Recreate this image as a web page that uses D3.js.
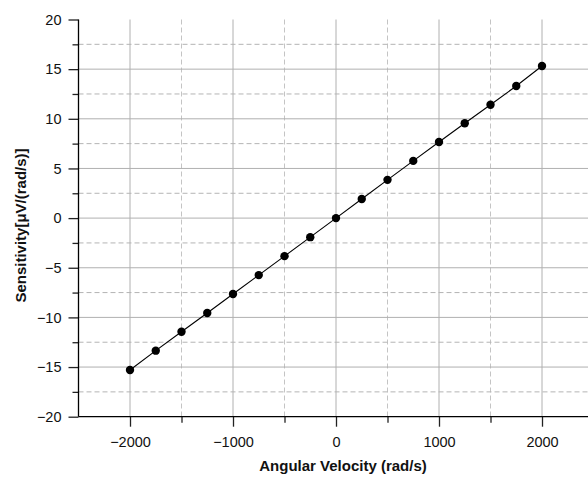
<!DOCTYPE html>
<html><head><meta charset="utf-8">
<script src="https://cdn.jsdelivr.net/npm/d3@7"></script>
<style>body{margin:0;background:#fff;} svg{display:block;font-family:"Liberation Sans",Arial,sans-serif;}</style>
</head><body>
<svg id="c" width="588" height="477"></svg>
<script>
const velocities = [-2000,-1750,-1500,-1250,-1000,-750,-500,-250,0,250,500,750,1000,1250,1500,1750,2000];
const sensitivity = [-15.3,-13.35,-11.45,-9.55,-7.65,-5.74,-3.83,-1.92,0,1.93,3.85,5.76,7.66,9.55,11.42,13.3,15.32];
const xMajorTicks = [-2000,-1000,0,1000,2000];
const xMinorTicks = [-1500,-500,500,1500];
const yMajorTicks = [-20,-15,-10,-5,0,5,10,15,20];
const yMinorTicks = [-17.5,-12.5,-7.5,-2.5,2.5,7.5,12.5,17.5];
const xTitle = "Angular Velocity (rad/s)";
const yTitle = "Sensitivity[\u03bcV/(rad/s)]";

(function(){
const svg = d3.select("#c");
const pLeft = 78.5, pTop = 19.5, pBottom = 416.7;
const x = d3.scaleLinear().domain([-2500,2500]).range([pLeft, pLeft + 515]);
const y = d3.scaleLinear().domain([-20,20]).range([pBottom, pTop]);

const grid = svg.append("g");
grid.selectAll(".vmaj").data(xMajorTicks).enter().append("line")
  .attr("x1",d=>x(d)).attr("x2",d=>x(d)).attr("y1",pTop).attr("y2",pBottom)
  .attr("stroke","#b0b0b0").attr("stroke-width",1);
grid.selectAll(".vmin").data(xMinorTicks).enter().append("line")
  .attr("x1",d=>x(d)).attr("x2",d=>x(d)).attr("y1",pTop).attr("y2",pBottom)
  .attr("stroke","#c4c4c4").attr("stroke-width",1).attr("stroke-dasharray","5,3");
grid.selectAll(".hmaj").data(yMajorTicks.filter(d=>d>-20 && d<20)).enter().append("line")
  .attr("x1",pLeft).attr("x2",588).attr("y1",d=>y(d)).attr("y2",d=>y(d))
  .attr("stroke","#b0b0b0").attr("stroke-width",1);
grid.selectAll(".hmin").data(yMinorTicks).enter().append("line")
  .attr("x1",pLeft).attr("x2",588).attr("y1",d=>y(d)).attr("y2",d=>y(d))
  .attr("stroke","#b4b4b4").attr("stroke-width",1).attr("stroke-dasharray","5,3");

const fmt = d3.format("d");
const xAxis = svg.append("g").attr("transform",`translate(0,${pBottom})`)
  .call(d3.axisBottom(x).tickValues(xMajorTicks).tickSize(10).tickPadding(10).tickFormat(fmt));
const xAxisMinor = svg.append("g").attr("transform",`translate(0,${pBottom})`)
  .call(d3.axisBottom(x).tickValues(xMinorTicks).tickSize(6).tickFormat(""));
const yAxis = svg.append("g").attr("transform",`translate(${pLeft},0)`)
  .call(d3.axisLeft(y).tickValues(yMajorTicks).tickSize(10).tickPadding(7).tickFormat(fmt));
const yAxisMinor = svg.append("g").attr("transform",`translate(${pLeft},0)`)
  .call(d3.axisLeft(y).tickValues(yMinorTicks).tickSize(6).tickFormat(""));
[xAxis,xAxisMinor,yAxis,yAxisMinor].forEach(a=>{
  a.select(".domain").remove();
  a.selectAll(".tick line").attr("stroke","#222").attr("stroke-width",1.3);
  a.selectAll("text").attr("font-size",14.5).attr("fill","#111").attr("font-family","Liberation Sans, Arial, sans-serif");
});
svg.append("line").attr("x1",pLeft).attr("x2",pLeft).attr("y1",pTop).attr("y2",pBottom).attr("stroke","#000").attr("stroke-width",1.3);
svg.append("line").attr("x1",pLeft).attr("x2",588).attr("y1",pBottom).attr("y2",pBottom).attr("stroke","#000").attr("stroke-width",1.3);

const line = d3.line().x((d,i)=>x(velocities[i])).y(d=>y(d));
svg.append("path").datum(sensitivity).attr("d",line).attr("fill","none").attr("stroke","#000").attr("stroke-width",1.1);
svg.selectAll(".pt").data(sensitivity).enter().append("circle")
  .attr("cx",(d,i)=>x(velocities[i])).attr("cy",d=>y(d)).attr("r",4.2).attr("fill","#000");

svg.append("text").attr("x",343).attr("y",471).attr("text-anchor","middle")
  .attr("font-size",15).attr("font-weight","bold").attr("fill","#111").text(xTitle);
svg.append("text").attr("transform",`translate(25.5,225.5) rotate(-90)`).attr("text-anchor","middle")
  .attr("font-size",15).attr("font-weight","bold").attr("fill","#111").text(yTitle);
})();
</script>
</body></html>
